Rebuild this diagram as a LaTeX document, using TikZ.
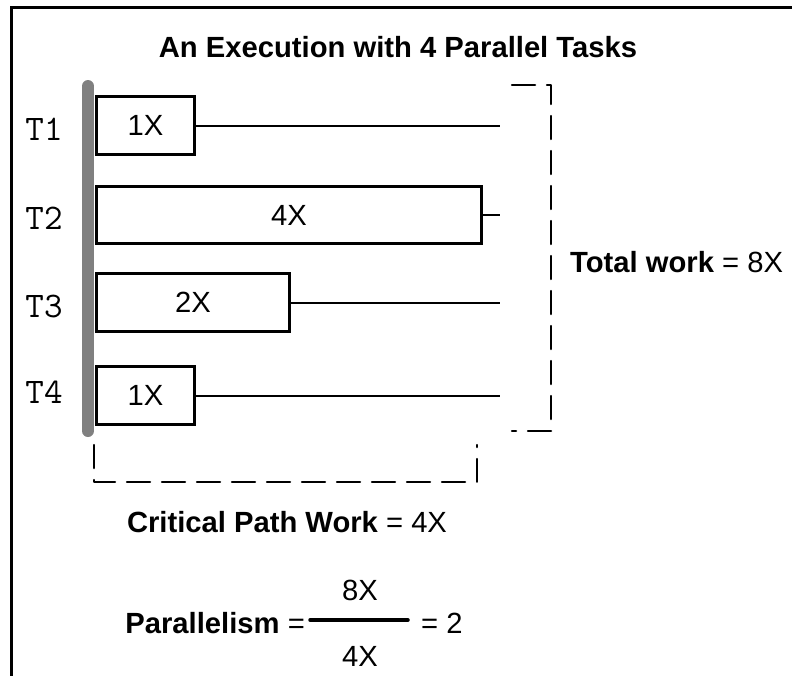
\documentclass[tikz,border=0pt]{standalone}
\usepackage{fontspec}
\setmainfont{Liberation Sans}
\begin{document}
\begin{tikzpicture}[x=1pt,y=-1pt,
  txt/.style={inner sep=0pt, font=\fontsize{29.2}{34}\selectfont},
  tlabel/.style={inner sep=0pt, font=\ttfamily\fontsize{36}{40}\selectfont},
  task/.style={draw, line width=3pt, inner sep=0pt, anchor=north west,
               font=\fontsize{29.2}{34}\selectfont},
  link/.style={line width=2pt},
  bracket/.style={line width=2.5pt, dash pattern=on 23pt off 12pt,
                  line cap=round, line join=round}]
\useasboundingbox (0,0) rectangle (792,675);
% frame
\draw[line width=3pt] (11,690) -- (11,7) -- (800,7);
% title
\node[txt, font=\bfseries\fontsize{29.2}{34}\selectfont] (title) at (398,47) {An Execution with 4 Parallel Tasks};
% start bar
\draw[line width=12pt, line cap=round, color=black!50] (88,86) -- (88,431);
% task boxes
\node[task, minimum width=98pt, minimum height=58pt] (b1) at (95,95) {1X};
\node[task, minimum width=385pt, minimum height=57pt] (b2) at (95,185) {4X};
\node[task, minimum width=193pt, minimum height=58pt] (b3) at (95,272) {2X};
\node[task, minimum width=98pt, minimum height=58pt] (b4) at (95,365) {1X};
% task labels
\node[tlabel] (t1) at (44,129) {T1};
\node[tlabel] (t2) at (44,218) {T2};
\node[tlabel] (t3) at (44,306) {T3};
\node[tlabel] (t4) at (44,392) {T4};
% lines to the end
\coordinate (e1) at (500,0);
\draw[link] (b1.east) -- (b1.east -| e1);
\draw[link] (b2.east) -- (b2.east -| e1);
\draw[link] (b3.east) -- (b3.east -| e1);
\draw[link] (b4.east) -- (b4.east -| e1);
% total-work bracket
\coordinate (r1) at (512,85);
\coordinate (r2) at (551,85);
\coordinate (r3) at (551,431);
\coordinate (r4) at (512,431);
\draw[bracket] (r1) -- (r2) -- (r3) -- (r4);
\node[txt, anchor=west] (total) at (570,262) {\textbf{Total work} = 8X};
% critical-path bracket
\coordinate (c1) at (94,445);
\coordinate (c2) at (94,482);
\coordinate (c3) at (477,482);
\coordinate (c4) at (477,445);
\draw[bracket] (c1) -- (c2) -- (c3) -- (c4);
\node[txt] (crit) at (287,522) {\textbf{Critical Path Work} = 4X};
% parallelism
\node[txt, anchor=east] (par) at (305,623) {\textbf{Parallelism} =};
\coordinate (f1) at (310,620);
\coordinate (f2) at (408,620);
\draw[line width=3.5pt, line cap=round] (f1) -- (f2);
\node[txt] (num) at (360,590) {8X};
\node[txt] (den) at (360,656) {4X};
\node[txt, anchor=west] (res) at (421,623) {= 2};
\end{tikzpicture}
\end{document}
